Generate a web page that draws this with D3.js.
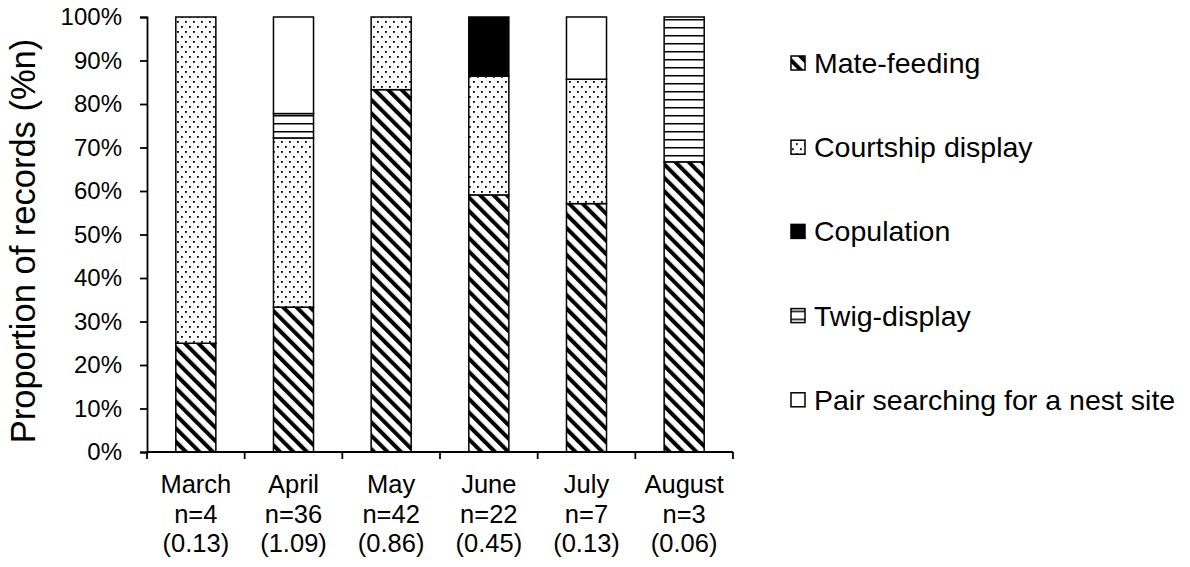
<!DOCTYPE html>
<html>
<head>
<meta charset="utf-8">
<script src="https://cdn.jsdelivr.net/npm/d3@7"></script>
<style>
    body { margin: 0; background: #fff; }
    text { font-family: "Liberation Sans", Arial, sans-serif; fill: #000; }
</style>
</head>
<body>
<svg id="chart" width="1190" height="567"></svg>
<script>
var months = ["March", "April", "May", "June", "July", "August"];
var nLabels = ["n=4", "n=36", "n=42", "n=22", "n=7", "n=3"];
var rateLabels = ["(0.13)", "(1.09)", "(0.86)", "(0.45)", "(0.13)", "(0.06)"];

// proportions of records per month
var mateFeeding = [0.25, 0.333, 0.833, 0.591, 0.571, 0.667];
var courtship   = [0.75, 0.389, 0.167, 0.273, 0.286, 0];
var copulation  = [0, 0, 0, 0.136, 0, 0];
var twigDisplay = [0, 0.056, 0, 0, 0, 0.333];
var pairSearch  = [0, 0.222, 0, 0, 0.143, 0];

var seriesNames = ["Mate-feeding", "Courtship display", "Copulation", "Twig-display", "Pair searching for a nest site"];
var seriesKeys = ["mate", "court", "cop", "twig", "pair"];
var yTicks = [0, 0.1, 0.2, 0.3, 0.4, 0.5, 0.6, 0.7, 0.8, 0.9, 1];

var svg = d3.select("#chart");
var plotLeft = 147, plotRight = 733, plotTop = 17, plotBottom = 452;

var rows = months.map(function(m, i) {
    return {month: m, mate: mateFeeding[i], court: courtship[i], cop: copulation[i],
            twig: twigDisplay[i], pair: pairSearch[i]};
});

var x = d3.scaleBand().domain(months).range([plotLeft, plotRight])
    .paddingInner(0.59).paddingOuter(0.295);
var y = d3.scaleLinear().domain([0, 1]).range([plotBottom, plotTop]);

// fill patterns
var defs = svg.append("defs");

var pStripe = defs.append("pattern").attr("id", "p-mate")
    .attr("patternUnits", "userSpaceOnUse").attr("width", 9.5).attr("height", 9.5)
    .attr("patternTransform", "rotate(-45)");
pStripe.append("rect").attr("width", 9.5).attr("height", 9.5).attr("fill", "#fff");
pStripe.append("rect").attr("width", 4).attr("height", 9.5).attr("fill", "#000");

var pDots = defs.append("pattern").attr("id", "p-court")
    .attr("patternUnits", "userSpaceOnUse").attr("width", 8).attr("height", 10);
pDots.append("rect").attr("width", 8).attr("height", 10).attr("fill", "#fff");
pDots.append("rect").attr("x", 1).attr("y", 1).attr("width", 1.8).attr("height", 1.8).attr("fill", "#000");
pDots.append("rect").attr("x", 5).attr("y", 6).attr("width", 1.8).attr("height", 1.8).attr("fill", "#000");

var pLines = defs.append("pattern").attr("id", "p-twig")
    .attr("patternUnits", "userSpaceOnUse").attr("width", 8).attr("height", 8);
pLines.append("rect").attr("width", 8).attr("height", 8).attr("fill", "#fff");
pLines.append("rect").attr("y", 3).attr("width", 8).attr("height", 1.5).attr("fill", "#000");

var fills = {mate: "url(#p-mate)", court: "url(#p-court)", cop: "#000", twig: "url(#p-twig)", pair: "#fff"};

// stacked bars
var stack = d3.stack().keys(seriesKeys)(rows);

svg.append("g").selectAll("g")
    .data(stack)
  .enter().append("g")
    .attr("fill", function(d) { return fills[d.key]; })
  .selectAll("rect")
    .data(function(d) { return d.filter(function(s) { return s[1] - s[0] > 0; }); })
  .enter().append("rect")
    .attr("x", function(d) { return x(d.data.month); })
    .attr("width", x.bandwidth())
    .attr("y", function(d) { return y(d[1]); })
    .attr("height", function(d) { return y(d[0]) - y(d[1]); })
    .attr("stroke", "#000")
    .attr("stroke-width", 1.5);

// y axis
var yAxis = svg.append("g").attr("transform", "translate(" + plotLeft + ",0)")
    .call(d3.axisLeft(y).tickValues(yTicks).tickSize(7).tickPadding(18)
        .tickFormat(function(d) { return Math.round(d * 100) + "%"; }));
yAxis.select(".domain").attr("stroke-width", 1.8);
yAxis.selectAll(".tick line").attr("stroke-width", 1.8);
yAxis.selectAll("text").attr("font-size", 24).style("font-family", "Liberation Sans, Arial, sans-serif");

// x axis with ticks between categories
var xg = svg.append("g");
xg.append("line").attr("x1", plotLeft).attr("x2", plotRight).attr("y1", plotBottom).attr("y2", plotBottom)
    .attr("stroke", "#000").attr("stroke-width", 1.8);
xg.selectAll(".xt")
    .data(d3.range(months.length + 1))
  .enter().append("line")
    .attr("x1", function(i) { return plotLeft + i * x.step(); })
    .attr("x2", function(i) { return plotLeft + i * x.step(); })
    .attr("y1", plotBottom).attr("y2", plotBottom + 7)
    .attr("stroke", "#000").attr("stroke-width", 1.8);

var lab = xg.selectAll(".xl")
    .data(months)
  .enter().append("text")
    .attr("text-anchor", "middle")
    .attr("font-size", 25.5);
lab.append("tspan")
    .attr("x", function(d) { return x(d) + x.bandwidth() / 2; })
    .attr("y", 493)
    .text(function(d) { return d; });
lab.append("tspan")
    .attr("x", function(d) { return x(d) + x.bandwidth() / 2; })
    .attr("y", 523)
    .text(function(d, i) { return nLabels[i]; });
lab.append("tspan")
    .attr("x", function(d) { return x(d) + x.bandwidth() / 2; })
    .attr("y", 552)
    .text(function(d, i) { return rateLabels[i]; });

// y axis title
svg.append("text")
    .attr("transform", "translate(35,241) rotate(-90)")
    .attr("text-anchor", "middle")
    .attr("font-size", 34.5)
    .text("Proportion of records (%n)");

// legend
var legend = svg.append("g").selectAll("g")
    .data(seriesKeys)
  .enter().append("g")
    .attr("transform", function(d, i) { return "translate(791," + (63 + i * 84.2) + ")"; });
legend.append("rect")
    .attr("x", 0).attr("y", -7).attr("width", 14).attr("height", 14)
    .attr("fill", function(d) { return fills[d]; })
    .attr("stroke", "#000").attr("stroke-width", 1.5);
legend.append("text")
    .attr("x", 23).attr("y", 10)
    .attr("font-size", 28.5)
    .text(function(d, i) { return seriesNames[i]; });
</script>
</body>
</html>
